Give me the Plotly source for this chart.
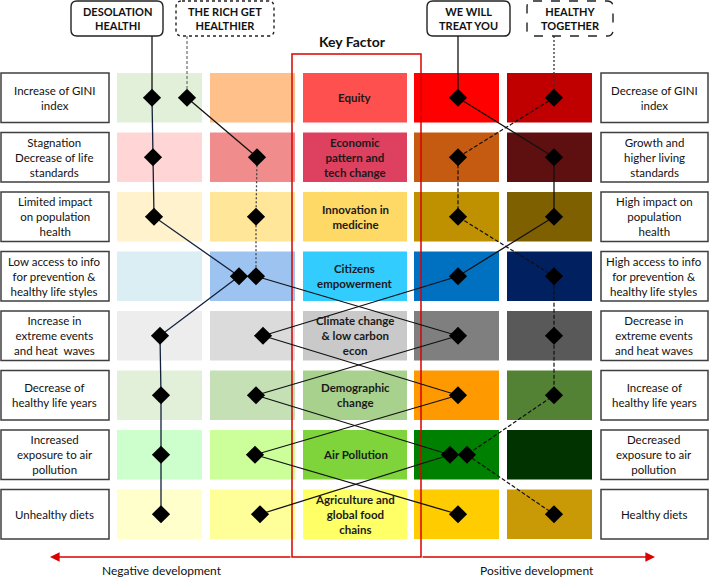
import plotly.graph_objects as go

# ─── Data ────────────────────────────────────────────────────────────────────
KEY_FACTORS = [
    "Equity",
    "Economic<br>pattern and<br>tech change",
    "Innovation in<br>medicine",
    "Citizens<br>empowerment",
    "Climate change<br>& low carbon<br>econ",
    "Demographic<br>change",
    "Air Pollution",
    "Agriculture and<br>global food<br>chains",
]
NEGATIVE = [
    "Increase of GINI<br>index",
    "Stagnation<br>Decrease of life<br>standards",
    "Limited impact<br>on population<br>health",
    "Low access to info<br>for prevention &<br>healthy life styles",
    "Increase in<br>extreme events<br>and heat  waves",
    "Decrease of<br>healthy life years",
    "Increased<br>exposure to air<br>pollution",
    "Unhealthy diets",
]
POSITIVE = [
    "Decrease of GINI<br>index",
    "Growth and<br>higher living<br>standards",
    "High impact on<br>population<br>health",
    "High access to info<br>for prevention &<br>healthy life styles",
    "Decrease in<br>extreme events<br>and heat waves",
    "Increase of<br>healthy life years",
    "Decreased<br>exposure to air<br>pollution",
    "Healthy diets",
]

# box colours per column, far negative -> far positive
NEG_FAR = ["#E2EFD9", "#FFD5D5", "#FFF2CC", "#DAEEF3", "#EDEDED", "#E2EFD9", "#CCFFCC", "#FFFFCC"]
NEG_NEAR = ["#FFC08A", "#F08C8C", "#FFE699", "#9DC3F0", "#DBDBDB", "#C5E0B4", "#CCFF99", "#FFFF99"]
KEY_COL = ["#FF5050", "#DE4060", "#FFD966", "#33CCFF", "#C9C9C9", "#A9D18E", "#7ED43A", "#FFFF66"]
POS_NEAR = ["#FF0000", "#C55A11", "#BF9000", "#0070C0", "#7F7F7F", "#FF9900", "#008000", "#FFCC00"]
POS_FAR = ["#C00000", "#5E1010", "#7F6000", "#002060", "#595959", "#548235", "#003300", "#C99A06"]

SCENARIOS = ["DESOLATION<br>HEALTHI", "THE RICH GET<br>HEALTHIER",
             "WE WILL<br>TREAT YOU", "HEALTHY<br>TOGETHER"]
# diamond x position (px) for each key factor row
DESOLATION = [152, 153, 154, 239, 160, 161, 161, 161]
RICH = [187, 257, 256, 256, 458, 256, 450, 260]
TREAT = [458, 554, 554, 458, 263, 458, 255, 458]
TOGETHER = [554, 458, 458, 554, 554, 554, 467, 554]

# ─── Layout geometry ─────────────────────────────────────────────────────────
W, H = 709, 578
ROW_TOP, ROW_H, ROW_STEP = 73, 49.5, 59.5
COLS = [(117, 202), (210, 295), (303, 407), (414, 499), (507, 592)]
LEFT_BOX, RIGHT_BOX = (0, 109), (600, 708)
BOXES = [(71, 163), (176, 274), (427, 510), (527, 613)]
BOX_STYLE = ["solid", "dot", "solid", "dash"]
RED = "#D90000"
FONT = "Lato, Calibri, sans-serif"

n = len(KEY_FACTORS)
row_y0 = [ROW_TOP + i * ROW_STEP for i in range(n)]
row_mid = [y + ROW_H / 2 for y in row_y0]


def rounded_rect(x0, y0, x1, y1, r=6):
    return (f"M {x0+r},{y0} L {x1-r},{y0} Q {x1},{y0} {x1},{y0+r} "
            f"L {x1},{y1-r} Q {x1},{y1} {x1-r},{y1} L {x0+r},{y1} "
            f"Q {x0},{y1} {x0},{y1-r} L {x0},{y0+r} Q {x0},{y0} {x0+r},{y0} Z")


shapes, annots = [], []

# coloured boxes
for colours, (x0, x1) in zip([NEG_FAR, NEG_NEAR, KEY_COL, POS_NEAR, POS_FAR], COLS):
    for i, c in enumerate(colours):
        shapes.append(dict(type="rect", x0=x0, x1=x1, y0=row_y0[i], y1=row_y0[i] + ROW_H,
                           fillcolor=c, line=dict(width=0), layer="below"))

# side label boxes
for labels, (x0, x1) in [(NEGATIVE, LEFT_BOX), (POSITIVE, RIGHT_BOX)]:
    for i, t in enumerate(labels):
        shapes.append(dict(type="rect", x0=x0 + 1, x1=x1, y0=row_y0[i], y1=row_y0[i] + ROW_H,
                           fillcolor="white", line=dict(color="#3F3F3F", width=1.5), layer="below"))
        annots.append(dict(x=(x0 + x1) / 2, y=row_mid[i], text=t, showarrow=False,
                           font=dict(size=11.5, color="#111111")))

# key factor text
for i, t in enumerate(KEY_FACTORS):
    annots.append(dict(x=sum(COLS[2]) / 2, y=row_mid[i], text=f"<b>{t}</b>", showarrow=False,
                       font=dict(size=11.5, color="#1A1A1A")))

# key factor frame + title
shapes.append(dict(type="rect", x0=292, x1=421, y0=54, y1=557,
                   line=dict(color=RED, width=1.5), layer="below"))
annots.append(dict(x=352, y=41, text="<b>Key Factor</b>", showarrow=False,
                   font=dict(size=14, color="#111111")))

# development arrows
for head, tail in [(50, 292), (655, 421)]:
    annots.append(dict(x=head, y=557, ax=tail, ay=557, axref="x", ayref="y",
                       text="", showarrow=True, arrowhead=2, arrowsize=1.2,
                       arrowwidth=1.6, arrowcolor=RED))
annots.append(dict(x=162, y=570, text="Negative development", showarrow=False,
                   font=dict(size=12, color="#111111")))
annots.append(dict(x=537, y=570, text="Positive development", showarrow=False,
                   font=dict(size=12, color="#111111")))

# scenario boxes
for name, (x0, x1), dash in zip(SCENARIOS, BOXES, BOX_STYLE):
    shapes.append(dict(type="path", path=rounded_rect(x0, 1, x1, 36),
                       fillcolor="white", line=dict(color="#222222", width=1.4, dash=dash)))
    annots.append(dict(x=(x0 + x1) / 2, y=18.5, text=f"<b>{name}</b>", showarrow=False,
                       font=dict(size=11, color="#111111")))

fig = go.Figure()


def path(xs, ys, color="#111111", dash="solid", width=1.3):
    fig.add_trace(go.Scatter(x=xs, y=ys, mode="lines", hoverinfo="skip",
                             line=dict(color=color, width=width, dash=dash)))


# connectors from scenario boxes to first diamond
path([DESOLATION[0]] * 2, [36, row_mid[0]], "#111111")
path([RICH[0]] * 2, [36, row_mid[0]], "#777777", "3px,2px")
path([TREAT[0]] * 2, [36, row_mid[0]], "#111111")
path([TOGETHER[0]] * 2, [36, row_mid[0]], "#333333", "2px,2px")

# scenario trajectories
path(DESOLATION, row_mid, "#14213D")
path(RICH[:2], row_mid[:2])
path(RICH[1:4], row_mid[1:4], "#444444", "2px,2px")
path(RICH[3:], row_mid[3:])
path(TREAT, row_mid)
path(TOGETHER, row_mid, "#111111", "4px,2px", 1.2)

for xs in [DESOLATION, RICH, TREAT, TOGETHER]:
    fig.add_trace(go.Scatter(x=xs, y=row_mid, mode="markers", hoverinfo="skip",
                             marker=dict(symbol="diamond", size=14, color="black")))

fig.update_layout(
    width=W, height=H,
    margin=dict(l=0, r=0, t=0, b=0),
    paper_bgcolor="white", plot_bgcolor="white",
    font=dict(family=FONT),
    showlegend=False,
    shapes=shapes, annotations=annots,
    xaxis=dict(range=[0, W], visible=False, fixedrange=True),
    yaxis=dict(range=[H, 0], visible=False, fixedrange=True),
)

fig.write_html("out.html", config=dict(displayModeBar=False),
               post_script="document.body.style.margin='0';document.body.style.overflow='hidden';")
